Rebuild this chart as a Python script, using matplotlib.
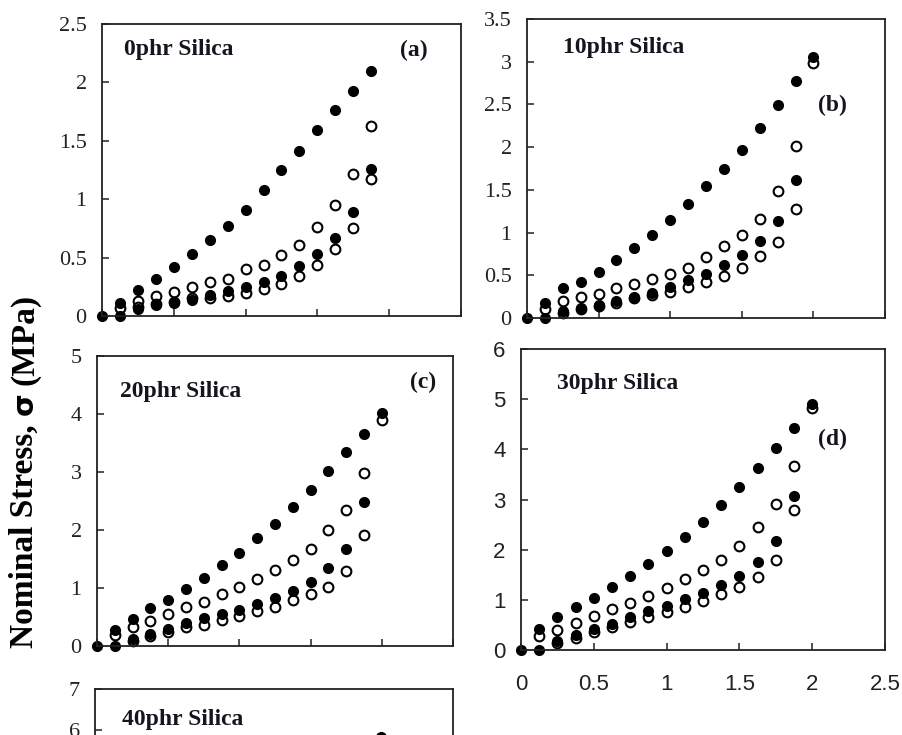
import matplotlib
matplotlib.use('Agg')
import matplotlib.pyplot as plt

# strain steps shared by all panels
strain = [0, 0.125, 0.25, 0.375, 0.5, 0.625, 0.75, 0.875, 1.0,
          1.125, 1.25, 1.375, 1.5, 1.625, 1.75, 1.875, 2.0]

# (a) 0phr silica
a_load1 = [0, 0.11, 0.22, 0.32, 0.42, 0.53, 0.65, 0.77, 0.91, 1.08, 1.25, 1.41, 1.59, 1.76, 1.93, 2.10]
a_unload1 = [0.07, 0.13, 0.17, 0.205, 0.25, 0.29, 0.32, 0.40, 0.44, 0.52, 0.61, 0.76, 0.95, 1.22, 1.63]
a_load2 = [0.0, 0.06, 0.09, 0.11, 0.14, 0.18, 0.21, 0.25, 0.29, 0.34, 0.43, 0.53, 0.67, 0.89, 1.26]
a_unload2 = [0.08, 0.10, 0.12, 0.15, 0.15, 0.17, 0.195, 0.23, 0.27, 0.34, 0.44, 0.57, 0.75, 1.17]

# (b) 10phr silica
b_load1 = [0, 0.18, 0.35, 0.42, 0.54, 0.68, 0.82, 0.975, 1.15, 1.33, 1.54, 1.75, 1.97, 2.22, 2.49, 2.78, 3.06]
b_unload1 = [0.105, 0.2, 0.25, 0.285, 0.35, 0.40, 0.46, 0.52, 0.59, 0.71, 0.84, 0.97, 1.16, 1.49, 2.01, 2.99]
b_load2 = [0.0, 0.08, 0.12, 0.155, 0.195, 0.24, 0.29, 0.36, 0.44, 0.52, 0.62, 0.74, 0.90, 1.14, 1.61]
b_unload2 = [0.06, 0.10, 0.14, 0.18, 0.23, 0.27, 0.31, 0.36, 0.42, 0.49, 0.58, 0.72, 0.89, 1.28]

# (c) 20phr silica
c_load1 = [0, 0.28, 0.46, 0.65, 0.80, 0.98, 1.18, 1.40, 1.61, 1.86, 2.11, 2.39, 2.69, 3.02, 3.34, 3.65, 4.01]
c_unload1 = [0.19, 0.32, 0.43, 0.55, 0.67, 0.76, 0.89, 1.01, 1.15, 1.31, 1.48, 1.67, 2.0, 2.34, 2.99, 3.90]
c_load2 = [0.0, 0.12, 0.21, 0.30, 0.39, 0.48, 0.55, 0.62, 0.72, 0.83, 0.95, 1.11, 1.34, 1.67, 2.48]
c_unload2 = [0.08, 0.17, 0.25, 0.32, 0.37, 0.45, 0.52, 0.60, 0.68, 0.79, 0.89, 1.02, 1.30, 1.91]

# (d) 30phr silica
d_load1 = [0, 0.42, 0.65, 0.85, 1.03, 1.25, 1.48, 1.71, 1.98, 2.26, 2.56, 2.90, 3.25, 3.63, 4.02, 4.42, 4.91]
d_unload1 = [0.27, 0.40, 0.53, 0.68, 0.81, 0.94, 1.08, 1.24, 1.41, 1.60, 1.80, 2.08, 2.46, 2.91, 3.67, 4.82]
d_load2 = [0.0, 0.18, 0.29, 0.41, 0.52, 0.65, 0.77, 0.88, 1.01, 1.14, 1.30, 1.48, 1.76, 2.17, 3.07]
d_unload2 = [0.13, 0.23, 0.35, 0.45, 0.55, 0.65, 0.75, 0.86, 0.98, 1.11, 1.25, 1.46, 1.80, 2.79]

# (e) 40phr silica, only the top of the panel is in the picture
e_strain = [2.0]
e_load1 = [5.83]

xticks = [0, 0.5, 1, 1.5, 2, 2.5]
W, H = 903, 735
serif = 'Liberation Serif'
sans = 'Liberation Sans'
txtcol = '#15151f'


def make_axes(fig, left, top, right, bottom):
    """axes from pixel box of the reference"""
    return fig.add_axes([left / W, 1 - bottom / H, (right - left) / W, (bottom - top) / H])


def style_axes(ax, ymax, ystep, family, show_x=False):
    ax.set_xlim(0, 2.5)
    ax.set_ylim(0, ymax)
    yt = [i * ystep for i in range(int(round(ymax / ystep)) + 1)]
    ax.set_yticks(yt)
    ax.set_yticklabels(['{0:g}'.format(v) for v in yt], family=family, fontsize=16, color='#222222')
    ax.set_xticks(xticks)
    if show_x:
        ax.set_xticklabels(['{0:g}'.format(v) for v in xticks], family=family, fontsize=16, color='#222222')
    else:
        ax.set_xticklabels([])
    ax.tick_params(direction='in', length=5, width=1.1, color='#222222')
    ax.tick_params(axis='y', pad=11)
    ax.tick_params(axis='x', pad=17)
    for sp in ax.spines.values():
        sp.set_linewidth(1.3)
        sp.set_color('#222222')


def draw_panel(ax, load1, unload1, load2, unload2, ymax, ystep, family, show_x=False):
    ax.plot(strain[1:1 + len(unload1)], unload1, 'o', ms=7, mfc='white', mec='black', mew=1.5, clip_on=False)
    ax.plot(strain[2:2 + len(unload2)], unload2, 'o', ms=7, mfc='white', mec='black', mew=1.5, clip_on=False)
    ax.plot(strain[1:1 + len(load2)], load2, 'o', ms=7, color='black', clip_on=False)
    ax.plot(strain[:len(load1)], load1, 'o', ms=7, color='black', clip_on=False)
    style_axes(ax, ymax, ystep, family, show_x)


def panel_text(ax, x, y, s):
    ax.text(x, y, s, transform=ax.transAxes, family=serif, weight='bold',
            fontsize=17, color=txtcol, va='center')


fig = plt.figure(figsize=(W / 100, H / 100), dpi=100)

axa = make_axes(fig, 102, 24, 461, 316)
draw_panel(axa, a_load1, a_unload1, a_load2, a_unload2, 2.5, 0.5, serif)
panel_text(axa, 0.061, 0.911, '0phr Silica')
panel_text(axa, 0.83, 0.911, '(a)')

axb = make_axes(fig, 527, 19, 885, 318)
draw_panel(axb, b_load1, b_unload1, b_load2, b_unload2, 3.5, 0.5, serif)
panel_text(axb, 0.10, 0.906, '10phr Silica')
panel_text(axb, 0.813, 0.712, '(b)')

axc = make_axes(fig, 97, 356, 453, 646)
draw_panel(axc, c_load1, c_unload1, c_load2, c_unload2, 5, 1, serif)
panel_text(axc, 0.065, 0.879, '20phr Silica')
panel_text(axc, 0.879, 0.910, '(c)')

axd = make_axes(fig, 521, 349, 885, 650)
draw_panel(axd, d_load1, d_unload1, d_load2, d_unload2, 6, 1, sans, show_x=True)
panel_text(axd, 0.099, 0.884, '30phr Silica')
panel_text(axd, 0.816, 0.698, '(d)')

# bottom panel runs off the page
axe = make_axes(fig, 95, 689, 453, 976)
axe.plot(e_strain, e_load1, 'o', ms=7, color='black', clip_on=False)
style_axes(axe, 7, 1, serif)
panel_text(axe, 0.075, 0.895, '40phr Silica')

# shared y label, sigma set upright in a sans face like the original
renderer = fig.canvas.get_renderer()
ylab_parts = [('Nominal Stress,', serif, 24, 9), ('σ', 'DejaVu Sans', 21, 8), ('(MPa)', serif, 24, 0)]
ypos = 1 - 648 / H
for s, fam, fs, gap in ylab_parts:
    t = fig.text(33 / W, ypos, s, rotation=90, rotation_mode='anchor', ha='left', va='baseline',
                 family=fam, weight='bold', fontsize=fs, color='black')
    bb = t.get_window_extent(renderer)
    ypos += (bb.height + gap) / H

fig.savefig('out.png', dpi=100)
